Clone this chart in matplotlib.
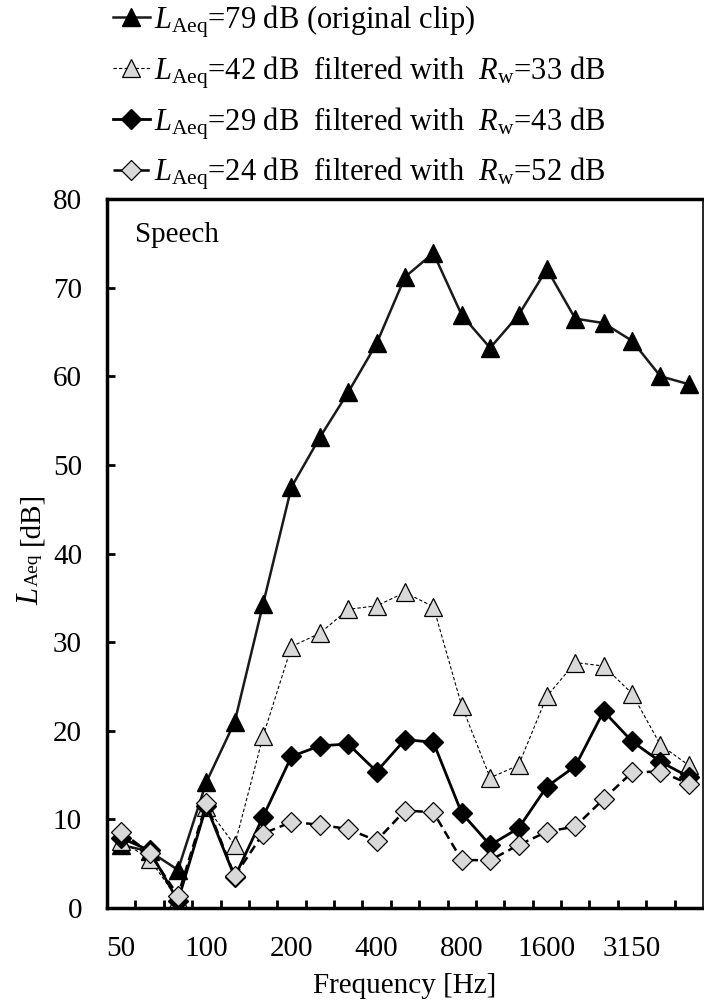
import numpy as np
import matplotlib.pyplot as plt
from matplotlib.ticker import FixedLocator, NullFormatter

plt.rcParams['font.family'] = ['Liberation Serif', 'DejaVu Serif']
plt.rcParams['mathtext.fontset'] = 'custom'
plt.rcParams['mathtext.rm'] = 'Liberation Serif'
plt.rcParams['mathtext.it'] = 'Liberation Serif:italic'

# 1/3-octave band centre frequencies
bands = ['50', '63', '80', '100', '125', '160', '200', '250', '315', '400', '500',
         '630', '800', '1000', '1250', '1600', '2000', '2500', '3150', '4000', '5000']
shown_labels = ['50', '100', '200', '400', '800', '1600', '3150']

original = [7.1, 6.4, 4.3, 14.2, 21.0, 34.3, 47.5, 53.1, 58.2, 63.7, 71.2,
            73.9, 66.9, 63.2, 66.9, 72.1, 66.5, 66.0, 64.0, 60.0, 59.1]
rw33 = [7.6, 5.5, 1.0, 11.4, 7.1, 19.4, 29.5, 31.0, 33.7, 34.1, 35.6,
        34.0, 22.8, 14.7, 16.1, 23.9, 27.7, 27.3, 24.2, 18.4, 16.1]
rw43 = [7.9, 6.5, 0.8, 11.5, 3.5, 10.3, 17.1, 18.3, 18.5, 15.4, 19.0,
        18.7, 10.7, 7.1, 9.0, 13.7, 16.0, 22.2, 18.8, 16.5, 14.8]
rw52 = [8.6, 6.2, 1.4, 11.8, 3.6, 8.4, 9.7, 9.4, 8.9, 7.6, 11.0,
        10.8, 5.4, 5.4, 7.1, 8.6, 9.2, 12.3, 15.3, 15.4, 14.0]

labels = [r'$L_{\mathrm{Aeq}}$=79 dB (original clip)',
          r'$L_{\mathrm{Aeq}}$=42 dB  filtered with  $R_{\mathrm{w}}$=33 dB',
          r'$L_{\mathrm{Aeq}}$=29 dB  filtered with  $R_{\mathrm{w}}$=43 dB',
          r'$L_{\mathrm{Aeq}}$=24 dB  filtered with  $R_{\mathrm{w}}$=52 dB']

W, H = 704, 1007
fig = plt.figure(figsize=(W / 100, H / 100), dpi=100)
ax = fig.add_axes([107 / W, 1 - 908 / H, 596 / W, 709 / H])

x = np.arange(len(bands))
gray = '#d9d9d9'

h1, = ax.plot(x, original, color='#1a1a1a', lw=1.8, marker='^', ms=13,
              mfc='black', mec='black', label=labels[0])
h2, = ax.plot(x, rw33, color='black', lw=0.8, ls=(0, (3, 2)), marker='^', ms=13,
              mfc=gray, mec='black', mew=0.9, label=labels[1])
h3, = ax.plot(x, rw43, color='black', lw=2.0, marker='D', ms=10,
              mfc='black', mec='black', label=labels[2])
h4, = ax.plot(x, rw52, color='black', lw=1.8, ls=(0, (3.5, 2)), marker='D', ms=10,
              mfc=gray, mec='black', mew=0.9, label=labels[3])

ax.set_xlim(-0.5, len(bands) - 0.5)
ax.set_ylim(0, 80)
ax.set_yticks(np.arange(0, 81, 10))

major_pos = [bands.index(b) for b in shown_labels]
ax.set_xticks(major_pos)
ax.set_xticklabels(shown_labels)
ax.xaxis.set_minor_locator(FixedLocator(np.arange(0.5, len(bands) - 1, 1.0)))
ax.xaxis.set_minor_formatter(NullFormatter())

ax.tick_params(axis='x', which='major', length=0, pad=20, labelsize=21)
ax.tick_params(axis='x', which='minor', direction='in', length=6, width=2.0)
ax.tick_params(axis='y', direction='in', length=6, width=2.0, pad=18, labelsize=21)

for side in ['left', 'bottom', 'top']:
    ax.spines[side].set_linewidth(2.5)
ax.spines['right'].set_linewidth(1.2)

ax.text(0.047, 0.968, 'Speech', transform=ax.transAxes, fontsize=21,
        ha='left', va='top')

ax.set_xlabel('Frequency [Hz]', fontsize=21, labelpad=8)

# y label: italic L, smaller Aeq on the same baseline, then [dB]
ylab_x = 38 / W
fig.text(ylab_x, 1 - 605 / H, 'L', fontsize=22, style='italic', rotation=90,
         rotation_mode='anchor', ha='left', va='baseline')
fig.text(ylab_x, 1 - 586 / H, 'Aeq', fontsize=14, rotation=90,
         rotation_mode='anchor', ha='left', va='baseline')
fig.text(ylab_x, 1 - 545 / H, '[dB]', fontsize=21, rotation=90,
         rotation_mode='anchor', ha='left', va='baseline')

fig.legend(handles=[h1, h2, h3, h4], loc='upper left',
           bbox_to_anchor=(113 / W, 1 - 3 / H), frameon=False, fontsize=22,
           handlelength=1.2, handletextpad=0.15, labelspacing=0.47,
           borderpad=0, borderaxespad=0, markerscale=1.0)

fig.savefig('out.png', dpi=100)
